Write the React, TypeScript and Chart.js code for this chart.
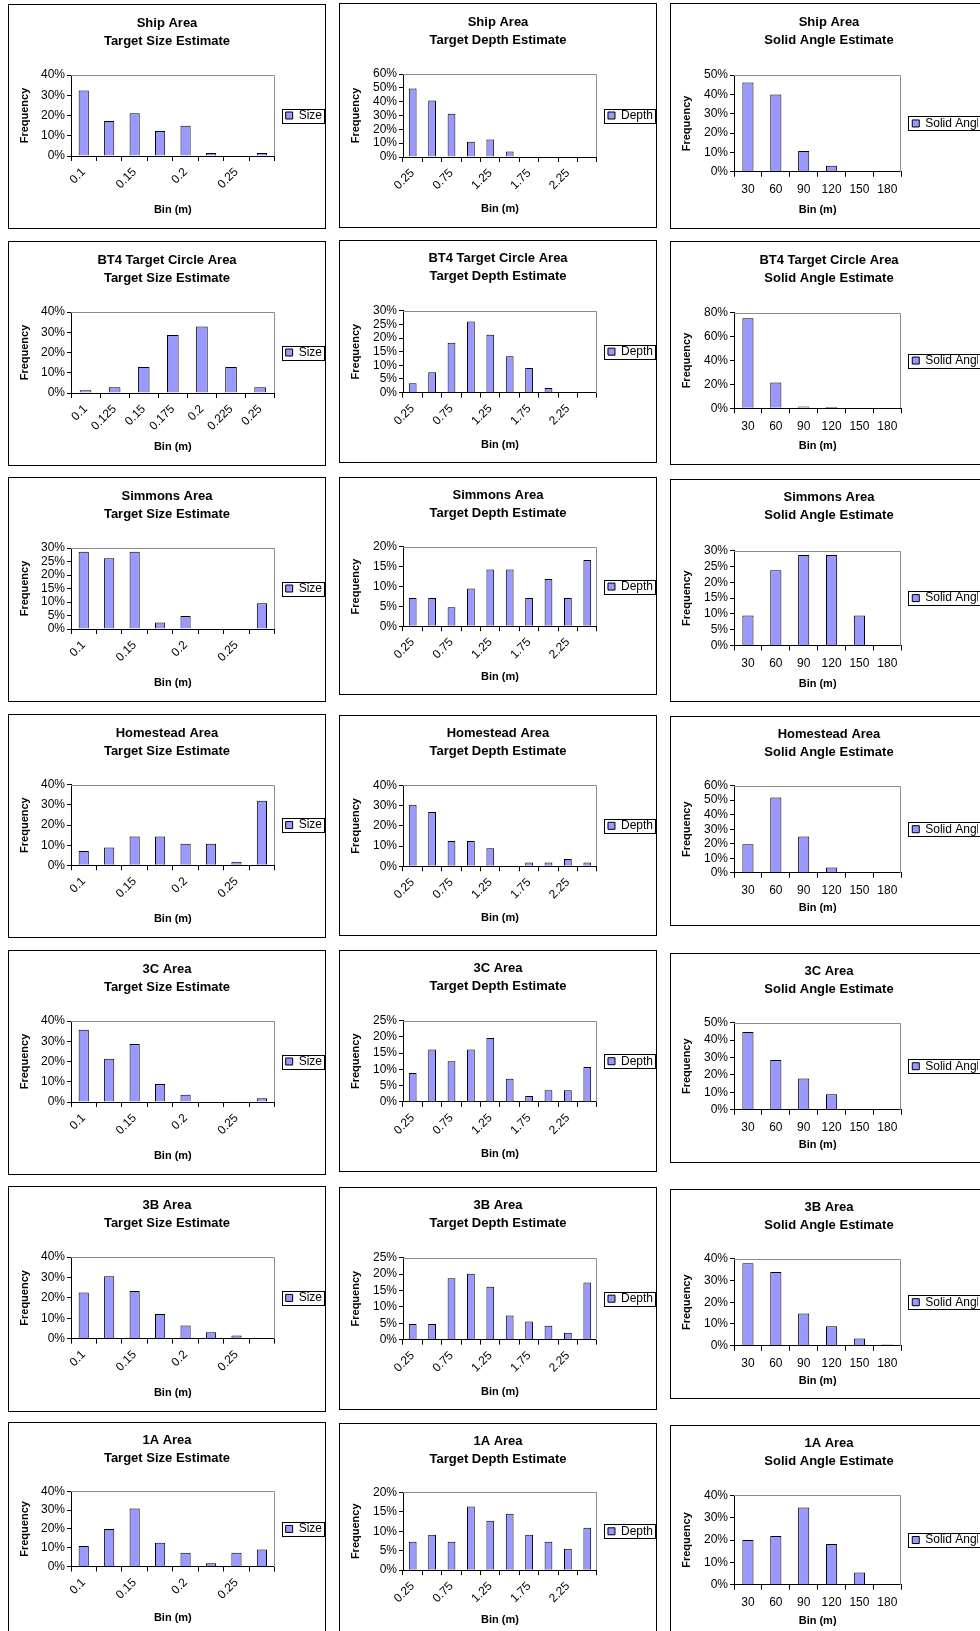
import React, { useEffect, useRef } from 'react';
import { Chart, registerables } from 'chart.js';

Chart.register(...registerables);

const FONT = "'Liberation Sans', Arial, Helvetica, sans-serif";
Chart.defaults.font.family = FONT;
Chart.defaults.color = '#000';

// Histogram bins
const sizeBins = ['0.1', '0.125', '0.15', '0.175', '0.2', '0.225', '0.25', 'More'];
const bt4SizeBins = ['0.1', '0.125', '0.15', '0.175', '0.2', '0.225', '0.25'];
const depthBins = ['0.25', '0.5', '0.75', '1', '1.25', '1.5', '1.75', '2', '2.25', 'More'];
const angleBins = ['30', '60', '90', '120', '150', '180'];

const areaNames = [
  'Ship Area',
  'BT4 Target Circle Area',
  'Simmons Area',
  'Homestead Area',
  '3C Area',
  '3B Area',
  '1A Area',
];

// Frequencies in percent, one list per area and estimate
const shipSize = [32.3, 17.3, 21.1, 12.3, 15.0, 1.5, 0, 1.5];
const shipDepth = [49.6, 40.8, 31.3, 11.1, 12.6, 4.0, 0, 0, 0, 0];
const shipAngle = [46.2, 40.0, 10.8, 3.1, 0, 0];

const bt4Size = [1.4, 2.9, 12.9, 28.6, 32.9, 12.9, 2.9];
const bt4Depth = [3.4, 7.5, 18.3, 26.0, 21.2, 13.3, 9.0, 1.7, 0, 0];
const bt4Angle = [75.5, 21.5, 1.5, 1.0, 0, 0];

const simmonsSize = [28.6, 26.2, 28.6, 2.4, 4.8, 0, 0, 9.5];
const simmonsDepth = [7.1, 7.1, 4.8, 9.5, 14.3, 14.3, 7.1, 11.9, 7.1, 16.7];
const simmonsAngle = [9.5, 23.8, 28.6, 28.6, 9.5, 0];

const homesteadSize = [7.1, 8.9, 14.3, 14.3, 10.7, 10.7, 1.8, 32.1];
const homesteadDepth = [30.4, 26.8, 12.5, 12.5, 8.9, 0, 1.8, 1.8, 3.6, 1.8];
const homesteadAngle = [19.6, 51.8, 25.0, 3.6, 0, 0];

const c3Size = [35.7, 21.4, 28.6, 8.9, 3.6, 0, 0, 1.8];
const c3Depth = [8.9, 16.1, 12.5, 16.1, 19.6, 7.1, 1.8, 3.6, 3.6, 10.7];
const c3Angle = [44.6, 28.6, 17.9, 8.9, 0, 0];

const b3Size = [22.6, 30.6, 23.4, 12.1, 6.5, 3.2, 1.6, 0];
const b3Depth = [4.8, 4.8, 18.7, 20.1, 16.1, 7.4, 5.5, 4.2, 2.1, 17.4];
const b3Angle = [37.9, 33.9, 14.8, 9.0, 3.3, 0.6];

const a1Size = [10.9, 20.0, 30.9, 12.7, 7.3, 1.8, 7.3, 9.1];
const a1Depth = [7.3, 9.1, 7.3, 16.4, 12.7, 14.5, 9.1, 7.3, 5.5, 10.9];
const a1Angle = [20.0, 21.8, 34.5, 18.2, 5.5, 0];

// Y axis ranges (max, step) per area
const sizeAxisMax = [40, 40, 30, 40, 40, 40, 40];
const sizeAxisStep = [10, 10, 5, 10, 10, 10, 10];
const depthAxisMax = [60, 30, 20, 40, 25, 25, 20];
const depthAxisStep = [10, 5, 5, 10, 5, 5, 5];
const angleAxisMax = [50, 80, 30, 60, 50, 40, 40];
const angleAxisStep = [10, 20, 5, 10, 10, 10, 10];

const sizeSeries = [shipSize, bt4Size, simmonsSize, homesteadSize, c3Size, b3Size, a1Size];
const depthSeries = [shipDepth, bt4Depth, simmonsDepth, homesteadDepth, c3Depth, b3Depth, a1Depth];
const angleSeries = [shipAngle, bt4Angle, simmonsAngle, homesteadAngle, c3Angle, b3Angle, a1Angle];

// Page placement of the boxed charts
const columnLeft = [8, 339, 670];
const panelWidth = 318;
const panelTops = [
  [4, 241, 477, 714, 950, 1186, 1422],
  [3, 240, 477, 715, 950, 1187, 1423],
  [3, 241, 479, 716, 953, 1189, 1425],
];
const panelHeights = [
  [225, 225, 225, 224, 225, 226, 214],
  [225, 223, 218, 221, 222, 223, 215],
  [226, 224, 223, 210, 210, 210, 214],
];

type Kind = 'size' | 'depth' | 'angle';

interface PanelSpec {
  key: string;
  kind: Kind;
  area: string;
  labels: string[];
  values: number[];
  max: number;
  step: number;
  labelEvery: number;
  x: number;
  y: number;
  w: number;
  h: number;
}

const kindText: Record<Kind, { sub: string; legend: string }> = {
  size: { sub: 'Target Size Estimate', legend: 'Size' },
  depth: { sub: 'Target Depth Estimate', legend: 'Depth' },
  angle: { sub: 'Solid Angle Estimate', legend: 'Solid Angle' },
};

const kindMetrics: Record<Kind, { titleBottom: number; xHeight: number; yWidth: number; padRight: number }> = {
  size: { titleBottom: 25, xHeight: 72, yWidth: 62, padRight: -7 },
  depth: { titleBottom: 25, xHeight: 70, yWidth: 63, padRight: -7 },
  angle: { titleBottom: 26, xHeight: 56, yWidth: 63, padRight: 9 },
};

const panels: PanelSpec[] = [];
areaNames.forEach((area, r) => {
  const kinds: Kind[] = ['size', 'depth', 'angle'];
  kinds.forEach((kind, c) => {
    const labels = kind === 'size' ? (r === 1 ? bt4SizeBins : sizeBins) : kind === 'depth' ? depthBins : angleBins;
    const values = kind === 'size' ? sizeSeries[r] : kind === 'depth' ? depthSeries[r] : angleSeries[r];
    const max = kind === 'size' ? sizeAxisMax[r] : kind === 'depth' ? depthAxisMax[r] : angleAxisMax[r];
    const step = kind === 'size' ? sizeAxisStep[r] : kind === 'depth' ? depthAxisStep[r] : angleAxisStep[r];
    panels.push({
      key: `${r}-${c}`,
      kind,
      area,
      labels,
      values,
      max,
      step,
      labelEvery: kind === 'angle' || (kind === 'size' && r === 1) ? 1 : 2,
      x: columnLeft[c],
      y: panelTops[c][r],
      w: panelWidth,
      h: panelHeights[c][r],
    });
  });
});

// Keep the two-line title centred on the whole canvas
const centerTitle = {
  id: 'centerTitle',
  afterLayout(chart: any) {
    const t = chart.titleBlock;
    if (!t) return;
    t.left = 0;
    t.right = chart.width;
    t.width = chart.width;
  },
};

// Grey frame on the top and right of the plot area
const plotFrame = {
  id: 'plotFrame',
  beforeDatasetsDraw(chart: any) {
    const { ctx, chartArea: a } = chart;
    ctx.save();
    ctx.strokeStyle = '#8c8c8c';
    ctx.lineWidth = 1;
    ctx.beginPath();
    const top = Math.round(a.top) + 0.5;
    const right = Math.round(a.right) - 0.5;
    ctx.moveTo(Math.round(a.left), top);
    ctx.lineTo(right, top);
    ctx.lineTo(right, Math.round(a.bottom));
    ctx.stroke();
    ctx.restore();
  },
};

// Black box around the legend entry
const legendFrame = {
  id: 'legendFrame',
  afterDraw(chart: any) {
    const lg = chart.legend;
    const hb = lg && lg.legendHitBoxes && lg.legendHitBoxes[0];
    if (!hb) return;
    const { ctx } = chart;
    ctx.save();
    ctx.strokeStyle = '#000';
    ctx.lineWidth = 1;
    const cy = hb.top + hb.height / 2;
    const x0 = Math.round(hb.left) - 3.5;
    const x1 = Math.round(hb.left + hb.width) + 2.5;
    const y0 = Math.round(cy - 7) + 0.5;
    const y1 = Math.round(cy + 7) + 0.5;
    ctx.strokeRect(x0, y0, x1 - x0, y1 - y0);
    ctx.restore();
  },
};

function buildConfig(p: PanelSpec): any {
  const H = p.h - 2;
  const k = H / 223;
  const m = kindMetrics[p.kind];
  const rotated = p.kind !== 'angle';
  return {
    type: 'bar',
    data: {
      labels: p.labels,
      datasets: [
        {
          label: kindText[p.kind].legend,
          data: p.values,
          backgroundColor: '#9999FF',
          borderColor: '#000',
          borderWidth: 1,
          barPercentage: 0.4,
          categoryPercentage: 1,
        },
      ],
    },
    options: {
      responsive: false,
      animation: false,
      devicePixelRatio: 1,
      events: [],
      layout: { padding: { left: 0, top: 0, right: m.padRight, bottom: 0 } },
      plugins: {
        title: {
          display: true,
          text: [p.area, kindText[p.kind].sub],
          color: '#000',
          font: { family: FONT, size: 13, weight: 'bold', lineHeight: 18 / 13 },
          padding: { top: 9 * k, bottom: m.titleBottom * k },
        },
        legend: {
          display: true,
          position: 'right',
          fullSize: false,
          labels: {
            boxWidth: 7,
            boxHeight: 7,
            padding: 11,
            color: '#000',
            font: { family: FONT, size: 12 },
          },
        },
        tooltip: { enabled: false },
      },
      scales: {
        x: {
          grid: {
            offset: true,
            drawOnChartArea: false,
            drawTicks: true,
            tickLength: 5,
            color: '#000',
          },
          border: { color: '#000', width: 1 },
          ticks: {
            autoSkip: false,
            minRotation: rotated ? 45 : 0,
            maxRotation: rotated ? 45 : 0,
            padding: rotated ? 4 : 6,
            color: '#000',
            font: { family: FONT, size: 12 },
            callback: function (this: any, val: any, index: number) {
              return index % p.labelEvery === 0 ? this.getLabelForValue(val) : '';
            },
          },
          title: {
            display: true,
            text: 'Bin (m)',
            color: '#000',
            font: { family: FONT, size: 11, weight: 'bold' },
            padding: { top: 0, bottom: 11 * k },
          },
          afterFit: (s: any) => {
            s.height = m.xHeight * k;
          },
        },
        y: {
          min: 0,
          max: p.max,
          grid: {
            drawOnChartArea: false,
            drawTicks: true,
            tickLength: 4,
            color: '#000',
          },
          border: { color: '#000', width: 1 },
          ticks: {
            stepSize: p.step,
            autoSkip: false,
            padding: 2,
            color: '#000',
            font: { family: FONT, size: 12, lineHeight: 0.8 },
            callback: (v: any) => `${v}%`,
          },
          title: {
            display: true,
            text: 'Frequency',
            color: '#000',
            font: { family: FONT, size: 11, weight: 'bold' },
            padding: { top: 9.5, bottom: 0 },
          },
          afterFit: (s: any) => {
            s.width = m.yWidth;
          },
        },
      },
    },
    plugins: [centerTitle, plotFrame, legendFrame],
  };
}

function HistogramPanel({ spec }: { spec: PanelSpec }) {
  const ref = useRef<HTMLCanvasElement>(null);
  useEffect(() => {
    if (!ref.current) return;
    const chart = new Chart(ref.current, buildConfig(spec));
    return () => chart.destroy();
  }, [spec]);
  const cw = spec.w - 2;
  const ch = spec.h - 2;
  return (
    <div
      style={{
        position: 'absolute',
        left: spec.x,
        top: spec.y,
        width: spec.w,
        height: spec.h,
        border: '1px solid #000',
        boxSizing: 'border-box',
        background: '#fff',
      }}
    >
      <canvas ref={ref} width={cw} height={ch} style={{ display: 'block', width: cw, height: ch }} />
    </div>
  );
}

export default function App() {
  return (
    <div
      style={{
        position: 'fixed',
        left: 0,
        top: 0,
        width: 980,
        height: 1631,
        overflow: 'hidden',
        background: '#fff',
      }}
    >
      {panels.map((p) => (
        <HistogramPanel key={p.key} spec={p} />
      ))}
    </div>
  );
}
